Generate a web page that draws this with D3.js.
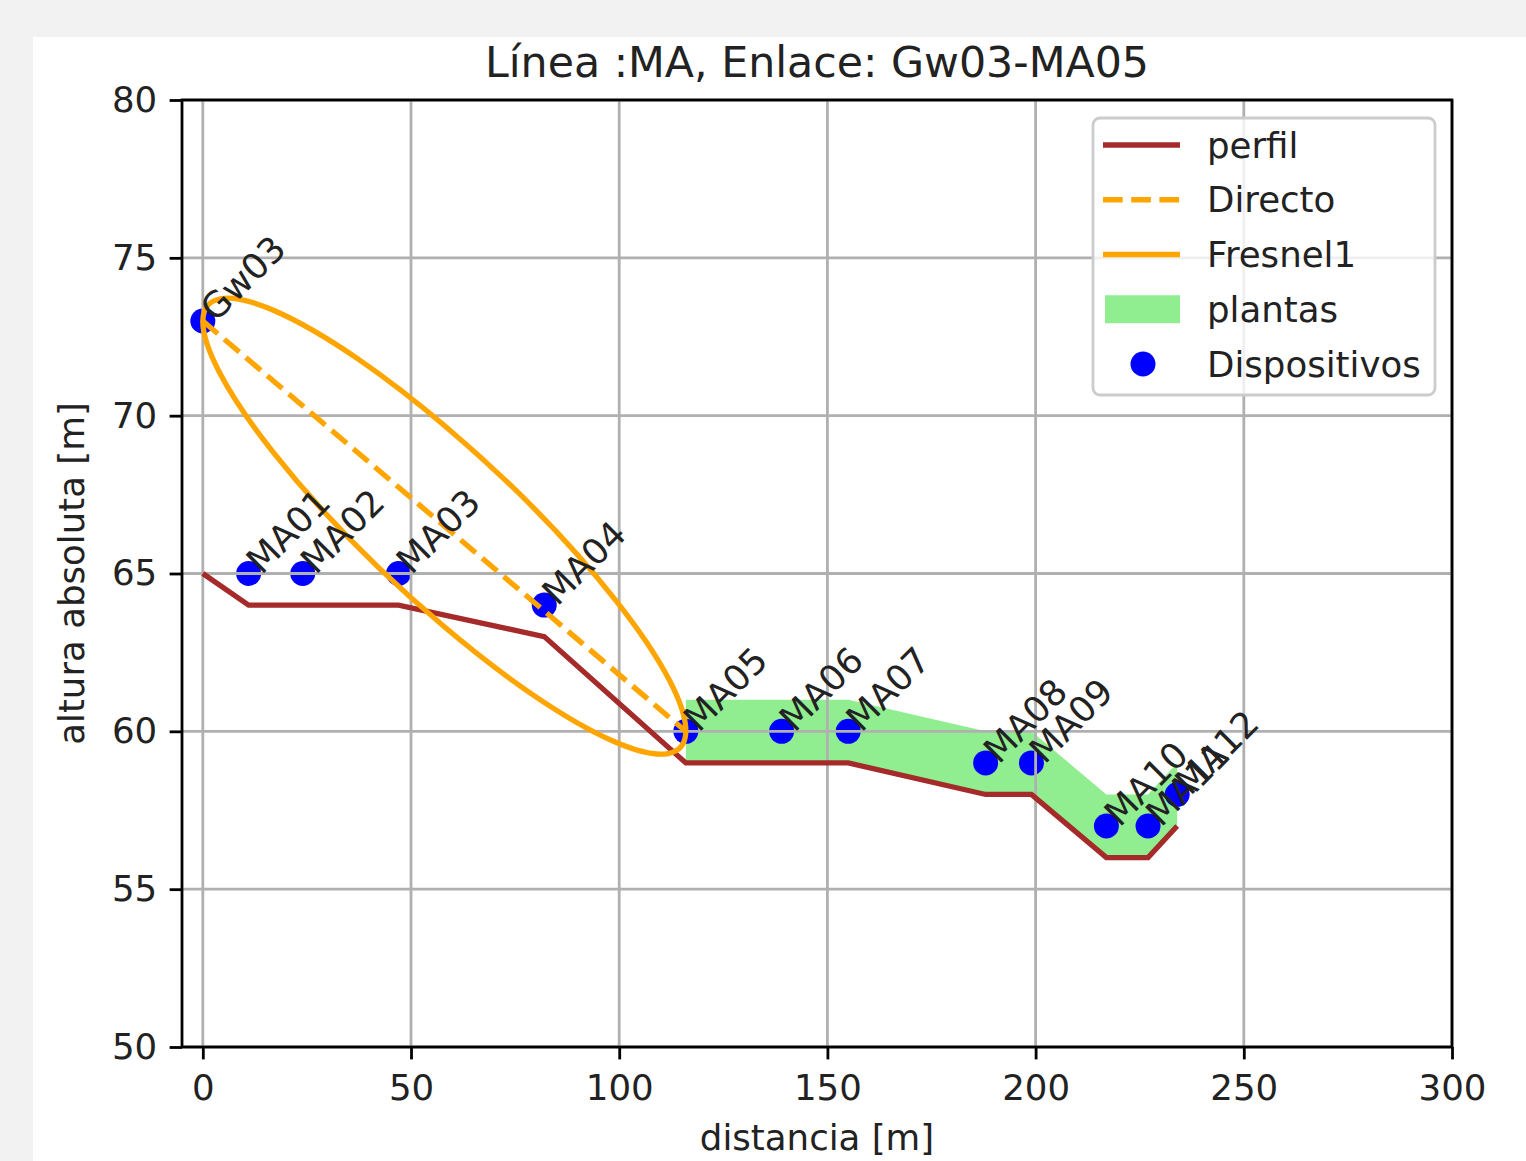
<!DOCTYPE html>
<html>
<head>
<meta charset="utf-8">
<script src="https://cdn.jsdelivr.net/npm/d3@7"></script>
<style>
  body { margin: 0; background: #f2f2f2; }
  svg { display: block; font-family: "DejaVu Sans", sans-serif; }
</style>
</head>
<body>
<div id="chart"></div>
<script>
var distancia = [0, 11, 24, 47, 82, 116, 139, 155, 188, 199, 217, 227, 234];
var perfil = [65, 64, 64, 64, 63, 59, 59, 59, 58, 58, 56, 56, 57];
var plantas = [0, 0, 0, 0, 0, 2, 2, 2, 2, 2, 2, 2, 2]; // altura de plantas sobre el perfil
var dispositivos = ["Gw03", "MA01", "MA02", "MA03", "MA04", "MA05", "MA06", "MA07", "MA08", "MA09", "MA10", "MA11", "MA12"];
var alturaDisp = [73, 65, 65, 65, 64, 60, 60, 60, 59, 59, 57, 57, 58];
var enlace = ["Gw03", "MA05"];
var radioFresnel = 3.17; // radio maximo de la 1a zona de fresnel [m]
var xTicks = [0, 50, 100, 150, 200, 250, 300];
var yTicks = [50, 55, 60, 65, 70, 75, 80];
var leyenda = ["perfil", "Directo", "Fresnel1", "plantas", "Dispositivos"];

var width = 1526, height = 1161;
// ojo: "top" es global del navegador, por eso mT, mB...
var mL = 182, mR = 1452, mT = 100, mB = 1047;
var fs = 35.6;

var svg = d3.select('#chart').append('svg')
    .attr('width', width)
    .attr('height', height);

// panel blanco de la figura
svg.append('rect')
    .attr('x', 33).attr('y', 37)
    .attr('width', width - 33).attr('height', height - 37)
    .attr('fill', '#ffffff');

var x = d3.scaleLinear().domain([-5, 300]).range([mL, mR]);
var y = d3.scaleLinear().domain([50, 80]).range([mB, mT]);

var datos = distancia.map(function (d, i) {
    return { x: d, perfil: perfil[i], plantas: plantas[i], nombre: dispositivos[i], h: alturaDisp[i] };
});

var plot = svg.append('g');

// plantas (fill_between)
var conPlantas = datos.filter(function (d) { return d.plantas > 0; });
plot.append('path')
    .datum(conPlantas)
    .attr('fill', '#90ee90')
    .attr('d', d3.area()
        .x(function (d) { return x(d.x); })
        .y0(function (d) { return y(d.perfil); })
        .y1(function (d) { return y(d.perfil + d.plantas); }));

// dispositivos
plot.selectAll('circle.disp')
    .data(datos)
    .enter()
    .append('circle')
    .attr('class', 'disp')
    .attr('cx', function (d) { return x(d.x); })
    .attr('cy', function (d) { return y(d.h); })
    .attr('r', 12.5)
    .attr('fill', '#0000ff');

// grid (encima de las colecciones, debajo de las lineas)
var grid = svg.append('g').attr('stroke', '#b0b0b0').attr('stroke-width', 2.8);
grid.selectAll('line.gx').data(xTicks).enter().append('line')
    .attr('x1', function (d) { return x(d); }).attr('x2', function (d) { return x(d); })
    .attr('y1', mT).attr('y2', mB);
grid.selectAll('line.gy').data(yTicks).enter().append('line')
    .attr('x1', mL).attr('x2', mR)
    .attr('y1', function (d) { return y(d); }).attr('y2', function (d) { return y(d); });

// perfil
var linea = d3.line()
    .x(function (d) { return x(d.x); })
    .y(function (d) { return y(d.perfil); });
svg.append('path')
    .datum(datos)
    .attr('fill', 'none')
    .attr('stroke', '#a52a2a')
    .attr('stroke-width', 5.3)
    .attr('d', linea);

// enlace directo
var a = datos.find(function (d) { return d.nombre == enlace[0]; });
var b = datos.find(function (d) { return d.nombre == enlace[1]; });
svg.append('line')
    .attr('x1', x(a.x)).attr('y1', y(a.h))
    .attr('x2', x(b.x)).attr('y2', y(b.h))
    .attr('stroke', '#ffa500')
    .attr('stroke-width', 5.3)
    .attr('stroke-dasharray', '19.7,8.5');

// zona de fresnel: elipse con semidiametros conjugados (mitad del enlace y radio perpendicular en metros)
var dx = b.x - a.x, dy = b.h - a.h;
var len = Math.sqrt(dx * dx + dy * dy);
var nx = -dy / len * radioFresnel, ny = dx / len * radioFresnel;
var mx = (a.x + b.x) / 2, my = (a.h + b.h) / 2;
var cx = x(mx), cy = y(my);
var ux = x(mx + dx / 2) - cx, uy = y(my + dy / 2) - cy;
var vx = x(mx + nx) - cx, vy = y(my + ny) - cy;
svg.append('circle')
    .attr('r', 1)
    .attr('fill', 'none')
    .attr('stroke', '#ffa500')
    .attr('stroke-width', 5.3)
    .attr('vector-effect', 'non-scaling-stroke')
    .attr('transform', 'matrix(' + [ux, uy, vx, vy, cx, cy].join(',') + ')');

// etiquetas de dispositivos
svg.selectAll('text.etq')
    .data(datos)
    .enter()
    .append('text')
    .attr('class', 'etq')
    .attr('font-size', fs)
    .attr('fill', '#222')
    .attr('transform', function (d) {
        return 'translate(' + (x(d.x) + 13) + ',' + (y(d.h) + 2) + ') rotate(-45)';
    })
    .text(function (d) { return d.nombre; });

// ejes
var ejeX = svg.append('g')
    .attr('transform', 'translate(0,' + mB + ')')
    .call(d3.axisBottom(x).tickValues(xTicks).tickSize(12.4).tickPadding(15).tickFormat(d3.format('d')));
var ejeY = svg.append('g')
    .attr('transform', 'translate(' + mL + ',0)')
    .call(d3.axisLeft(y).tickValues(yTicks).tickSize(12.4).tickPadding(12.4).tickFormat(d3.format('d')));
[ejeX, ejeY].forEach(function (g) {
    g.select('.domain').remove();
    g.selectAll('line').attr('stroke', '#000').attr('stroke-width', 2.8);
    g.selectAll('text').attr('font-size', fs).attr('fill', '#222').attr('font-family', '"DejaVu Sans", sans-serif');
});

// spines
svg.append('rect')
    .attr('x', mL).attr('y', mT)
    .attr('width', mR - mL).attr('height', mB - mT)
    .attr('fill', 'none')
    .attr('stroke', '#000')
    .attr('stroke-width', 2.8);

// titulos
svg.append('text')
    .attr('x', (mL + mR) / 2).attr('y', 77)
    .attr('text-anchor', 'middle')
    .attr('font-size', 42.7)
    .attr('fill', '#222')
    .text('Línea :MA, Enlace: Gw03-MA05');
svg.append('text')
    .attr('x', (mL + mR) / 2).attr('y', 1150)
    .attr('text-anchor', 'middle')
    .attr('font-size', fs)
    .attr('fill', '#222')
    .text('distancia [m]');
svg.append('text')
    .attr('transform', 'translate(84,' + (mT + mB) / 2 + ') rotate(-90)')
    .attr('text-anchor', 'middle')
    .attr('font-size', fs)
    .attr('fill', '#222')
    .text('altura absoluta [m]');

// leyenda
var ley = svg.append('g');
ley.append('rect')
    .attr('x', 1093).attr('y', 118)
    .attr('width', 342).attr('height', 277)
    .attr('rx', 7).attr('ry', 7)
    .attr('fill', 'rgba(255,255,255,0.8)')
    .attr('stroke', '#cccccc')
    .attr('stroke-width', 2.8);
var filaY = d3.scalePoint().domain(leyenda).range([145, 364]);
var h0 = 1103, h1 = 1180;
ley.append('line').attr('x1', h0).attr('x2', h1).attr('y1', filaY('perfil')).attr('y2', filaY('perfil'))
    .attr('stroke', '#a52a2a').attr('stroke-width', 5.3);
ley.append('line').attr('x1', h0).attr('x2', h1).attr('y1', filaY('Directo')).attr('y2', filaY('Directo'))
    .attr('stroke', '#ffa500').attr('stroke-width', 5.3).attr('stroke-dasharray', '19.7,8.5');
ley.append('line').attr('x1', h0).attr('x2', h1).attr('y1', filaY('Fresnel1')).attr('y2', filaY('Fresnel1'))
    .attr('stroke', '#ffa500').attr('stroke-width', 5.3);
ley.append('rect').attr('x', h0 + 2).attr('y', filaY('plantas') - 14).attr('width', h1 - h0 - 2).attr('height', 28)
    .attr('fill', '#90ee90');
ley.append('circle').attr('cx', 1143).attr('cy', filaY('Dispositivos')).attr('r', 12.5).attr('fill', '#0000ff');
ley.selectAll('text').data(leyenda).enter().append('text')
    .attr('x', 1207)
    .attr('y', function (d) { return filaY(d) + 12.5; })
    .attr('font-size', fs)
    .attr('fill', '#222')
    .text(function (d) { return d; });
</script>
</body>
</html>
